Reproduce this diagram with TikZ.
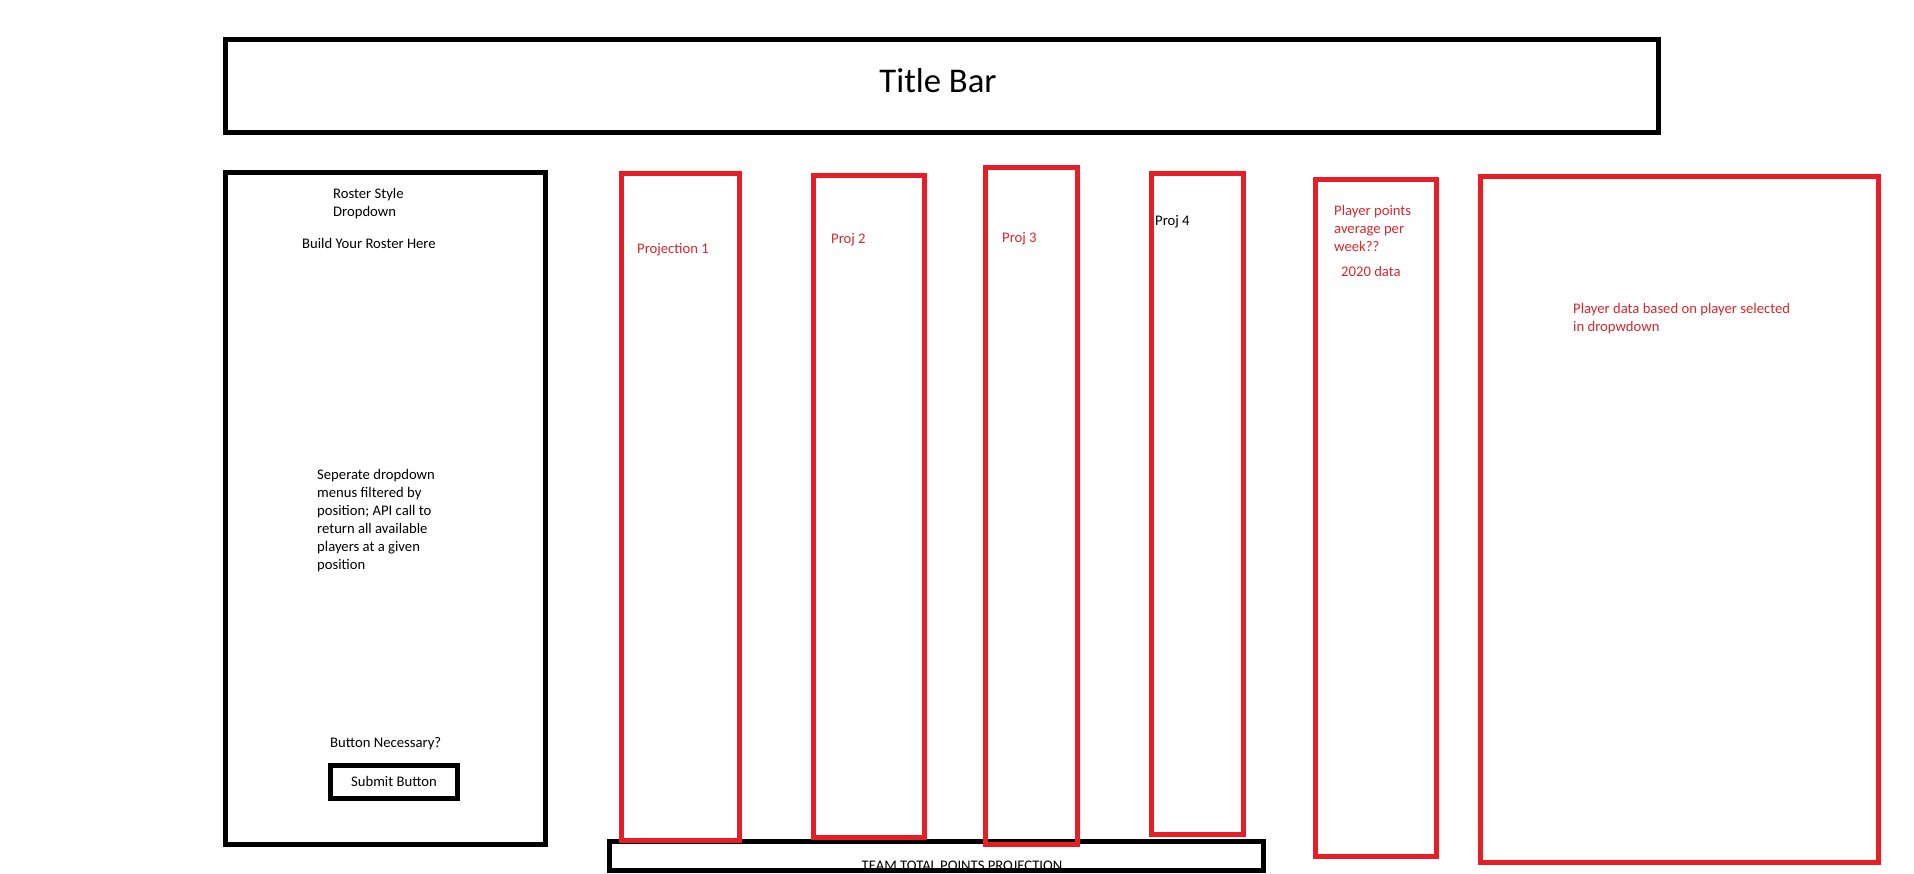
\documentclass[tikz,border=0pt]{standalone}
\usepackage{fontspec}
\setmainfont{Carlito}
\definecolor{boxred}{RGB}{232,30,38}
\definecolor{textred}{RGB}{214,40,46}
\begin{document}
\begin{tikzpicture}[x=1pt,y=-1pt,
  blackbox/.style={draw=black,line width=5pt},
  redbox/.style={draw=boxred,line width=5pt},
  lbl/.style={inner sep=0pt,anchor=base west,align=left,
    font=\fontsize{14.67}{18}\selectfont},
  redlbl/.style={lbl,text=textred}]
\useasboundingbox[fill=white] (0,0) rectangle (1914,873);

% title bar
\draw[blackbox] (225.5,39.5) rectangle (1658.5,132.5);
\node[inner sep=0pt,font=\fontsize{34.7}{40}\selectfont] (title) at (938,81) {Title Bar};

% roster panel (multi-line labels sit on the baseline of their last line)
\draw[blackbox] (225.5,172.5) rectangle (545.5,844.5);
\node[lbl] (style) at (333,216.5) {Roster Style\\Dropdown};
\node[lbl] (build) at (302,248.5) {Build Your Roster Here};
\node[lbl] (menus) at (317,569.5) {Seperate dropdown\\menus filtered by\\position; API call to\\return all available\\players at a given\\position};
\node[lbl] (need) at (330,747.5) {Button Necessary?};
\draw[blackbox] (330.5,765.5) rectangle (457.5,798.5);
\node[inner sep=0pt,font=\fontsize{14.67}{18}\selectfont] (submit) at (394,781) {Submit Button};

% team total strip (its lower edge hides the text's baseline)
\node[inner sep=0pt,anchor=base,font=\fontsize{14.67}{18}\selectfont] (total) at (962,870) {TEAM TOTAL POINTS PROJECTION};
\draw[blackbox] (609.5,841.5) rectangle (1263.5,870.5);

% projection columns
\draw[redbox] (621.5,173.5) rectangle (739.5,840.5);
\draw[redbox] (813.5,175.5) rectangle (924.5,837.5);
\draw[redbox] (985.5,167.5) rectangle (1077.5,844.5);
\draw[redbox] (1151.5,173.5) rectangle (1243.5,834.5);
\node[redlbl] (p1) at (637,253.5) {Projection 1};
\node[redlbl] (p2) at (831,243.5) {Proj 2};
\node[redlbl] (p3) at (1002,242.5) {Proj 3};
\node[lbl] (p4) at (1155,225.5) {Proj 4};

% player columns
\draw[redbox] (1315.5,179.5) rectangle (1436.5,856.5);
\node[redlbl] (avg) at (1334,251) {Player points\\average per\\week??};
\node[redlbl] (year) at (1341,276.5) {2020 data};
\draw[redbox] (1480.5,176.5) rectangle (1878.5,862.5);
\node[redlbl] (pdata) at (1573,331.5) {Player data based on player selected\\in dropwdown};
\end{tikzpicture}
\end{document}
